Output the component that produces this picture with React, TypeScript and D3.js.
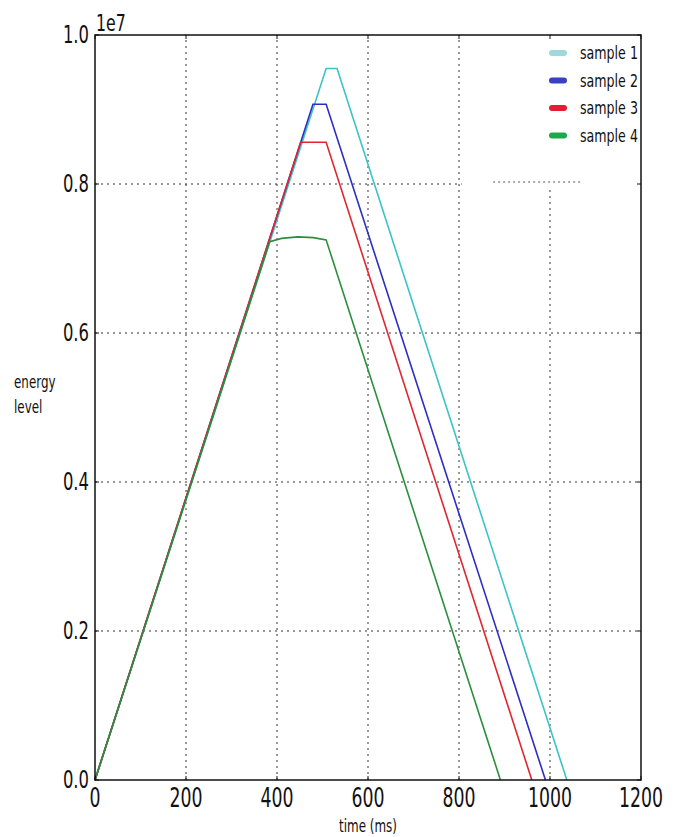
import React from 'react';
import * as d3 from 'd3';

// values, energy in units of 1e7
const sampleNames = ['sample 1', 'sample 2', 'sample 3', 'sample 4'];
const sample1Time = [0, 508, 532, 1037];
const sample1Energy = [0, 0.955, 0.955, 0];
const sample2Time = [0, 479, 508, 990];
const sample2Energy = [0, 0.907, 0.907, 0];
const sample3Time = [0, 452, 508, 960];
const sample3Energy = [0, 0.856, 0.856, 0];
const sample4Time = [0, 384, 410, 446, 480, 508, 891];
const sample4Energy = [0, 0.7226, 0.727, 0.729, 0.728, 0.725, 0];
const lineColors = ['#3cc3c6', '#2c2fc0', '#e02630', '#2a8f3c'];
const legendColors = ['#9dd8dc', '#3a3fc4', '#e31d33', '#1fa84a'];
const xTicks = [0, 200, 400, 600, 800, 1000, 1200];
const yTicks = [0, 0.2, 0.4, 0.6, 0.8, 1.0];

const W = 674, H = 837;
const margin = {top: 35, right: 33, bottom: 57, left: 95};

const FONT = '"Liberation Sans Narrow", "DejaVu Sans Condensed", sans-serif';

function Label(props: {x: number, y: number, size: number, sx?: number, anchor?: string, children: any}) {
  return (
    <text transform={`translate(${props.x},${props.y}) scale(${props.sx || 0.82},1)`}
      fontFamily={FONT} fontSize={props.size} textAnchor={props.anchor || 'start'} fill="#111">
      {props.children}
    </text>
  );
}

export default function App() {
  const x = d3.scaleLinear().domain([0, 1200]).range([margin.left, W - margin.right]);
  const y = d3.scaleLinear().domain([0, 1.0]).range([H - margin.bottom, margin.top]);

  const series = [
    sample1Time.map((t, i) => [t, sample1Energy[i]]),
    sample2Time.map((t, i) => [t, sample2Energy[i]]),
    sample3Time.map((t, i) => [t, sample3Energy[i]]),
    sample4Time.map((t, i) => [t, sample4Energy[i]]),
  ];
  const line = d3.line<number[]>().x(d => x(d[0])).y(d => y(d[1]));

  const x0 = x(0), x1 = x(1200), y0 = y(0), y1 = y(1);
  // white legend patch hides the grid behind it
  const legX = x(806), legY = y(0.797);

  return (
    <svg width={W} height={H} style={{position: 'absolute', left: 0, top: 0, background: '#fff'}}>
      <rect width={W} height={H} fill="#fff" />
      <g stroke="#333" strokeWidth={1} strokeDasharray="2,4">
        {xTicks.slice(1, -1).map(t => (
          <line key={'gx' + t} x1={x(t)} x2={x(t)} y1={y0} y2={y1} />
        ))}
        {yTicks.slice(1, -1).map(t => (
          <line key={'gy' + t} x1={x0} x2={x1} y1={y(t)} y2={y(t)} />
        ))}
      </g>
      <rect x={legX} y={y1 + 1} width={x1 - legX - 1} height={legY - y1} fill="#fff" />
      <line x1={x(875)} x2={x(1073)} y1={y(0.8027)} y2={y(0.8027)} stroke="#555" strokeDasharray="2,3" />

      {series.map((s, i) => (
        <path key={i} d={line(s) || ''} fill="none" stroke={lineColors[i]} strokeWidth={1.6} />
      ))}

      <rect x={x0} y={y1} width={x1 - x0} height={y0 - y1} fill="none" stroke="#111" strokeWidth={1.5} />
      <g stroke="#111" strokeWidth={1}>
        {xTicks.map(t => (
          <g key={'tx' + t}>
            <line x1={x(t)} x2={x(t)} y1={y0} y2={y0 - 4} />
            <line x1={x(t)} x2={x(t)} y1={y1} y2={y1 + 4} />
          </g>
        ))}
        {yTicks.map(t => (
          <g key={'ty' + t}>
            <line x1={x0} x2={x0 + 4} y1={y(t)} y2={y(t)} />
            <line x1={x1} x2={x1 - 4} y1={y(t)} y2={y(t)} />
          </g>
        ))}
      </g>

      {xTicks.map(t => (
        <Label key={'lx' + t} x={x(t)} y={y0 + 27} size={26} sx={0.74} anchor="middle">{t}</Label>
      ))}
      {yTicks.map(t => (
        <Label key={'ly' + t} x={x0 - 6} y={y(t) + 8} size={24} sx={0.76} anchor="end">{t.toFixed(1)}</Label>
      ))}
      <Label x={x0 + 1} y={y1 - 4} size={23} sx={0.76}>1e7</Label>
      <Label x={(x0 + x1) / 2} y={H - 5} size={17} sx={0.78} anchor="middle">time (ms)</Label>
      <Label x={14} y={388} size={17} sx={0.78}>energy</Label>
      <Label x={14} y={413} size={17} sx={0.78}>level</Label>

      {sampleNames.map((name, i) => (
        <g key={name}>
          <line x1={552} x2={564} y1={53 + i * 27.5} y2={53 + i * 27.5}
            stroke={legendColors[i]} strokeWidth={6} strokeLinecap="round" />
          <Label x={580} y={59 + i * 27.5} size={18} sx={0.78}>{name}</Label>
        </g>
      ))}
    </svg>
  );
}
